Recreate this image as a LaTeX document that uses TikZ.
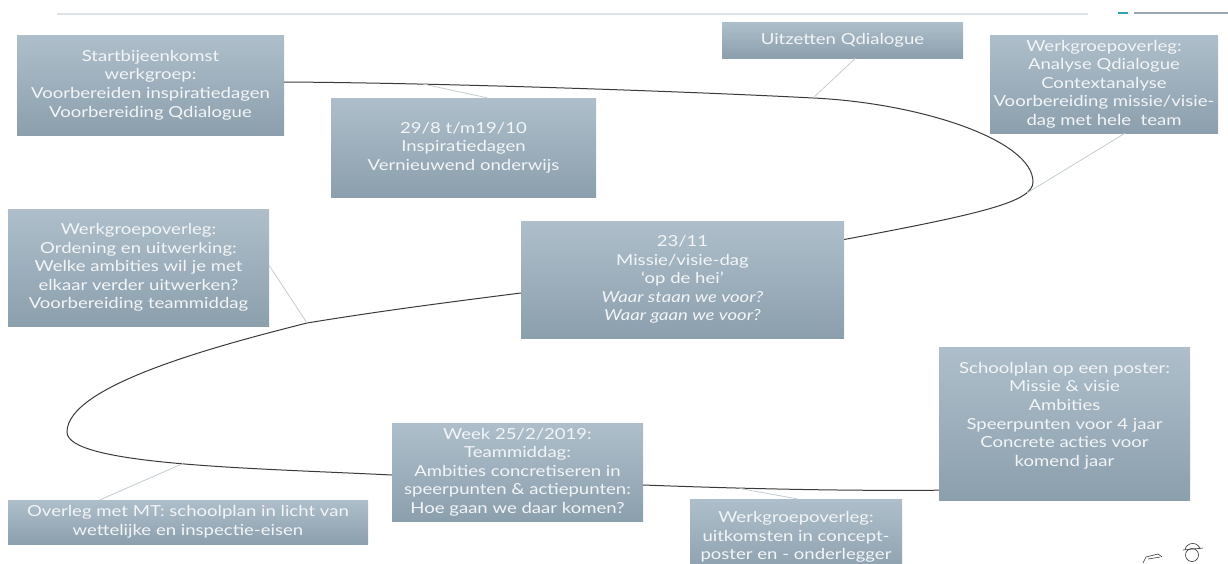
\documentclass[tikz,border=0pt]{standalone}
\usepackage{fontspec}
\setmainfont{Lato}[FakeStretch=1.22]
\definecolor{boxtop}{HTML}{AEBFCB}
\definecolor{boxbot}{HTML}{8C9FAD}
\definecolor{boxtext}{HTML}{F2F5F7}
\definecolor{curvecol}{HTML}{3A3A3A}
\definecolor{callcol}{HTML}{C3CCD2}
\definecolor{headgrey}{HTML}{DCE3E8}
\definecolor{headteal}{HTML}{2AA5B5}
\definecolor{headdark}{HTML}{9AA5AD}
\tikzset{
  box/.style={rectangle, top color=boxtop, bottom color=boxbot, draw=none,
    text=boxtext, align=center, inner sep=2pt,
    font=\fontsize{15.2}{18.6}\selectfont},
  curve/.style={draw=curvecol, line width=1pt},
  callout/.style={draw=callcol, line width=0.8pt},
}
\begin{document}
\begin{tikzpicture}[x=1pt,y=-1pt]
\useasboundingbox (0,0) rectangle (1228,563);
% header
\draw[headgrey, line width=1.6pt] (57,14) -- (1088,14);
\draw[headteal, line width=2pt] (1118,13) -- (1128,13);
\draw[headdark, line width=1.4pt] (1134,13) -- (1228,13);

% boxes
\node[box, minimum width=267pt, minimum height=100pt] (start) at (150.5,85)
  {Startbijeenkomst\\ werkgroep:\\ Voorbereiden inspiratiedagen\\ Voorbereiding Qdialogue};
\node[box, minimum width=265pt, minimum height=99pt] (insp) at (463.5,147.5)
  {29/8 t/m19/10\\ Inspiratiedagen\\ Vernieuwend onderwijs};
\node[box, minimum width=241pt, minimum height=36pt] (uitz) at (842.5,40)
  {Uitzetten Qdialogue};
\node[box, minimum width=228pt, minimum height=98pt] (anal) at (1104,84)
  {Werkgroepoverleg:\\ Analyse Qdialogue\\ Contextanalyse\\ Voorbereiding missie/visie-\\ dag met hele\ \ team};
\node[box, minimum width=261pt, minimum height=117pt] (orde) at (138.5,267.5)
  {Werkgroepoverleg:\\ Ordening en uitwerking:\\ Welke ambities wil je met\\ elkaar verder uitwerken?\\ Voorbereiding teammiddag};
\node[box, minimum width=323pt, minimum height=117pt] (miss) at (682.5,279.5)
  {23/11\\ Missie/visie-dag\\ ‘op de hei’\\ \textit{Waar staan we voor?}\\ \textit{Waar gaan we voor?}};
\node[box, minimum width=251pt, minimum height=153pt] (school) at (1064.5,423.5)
  {Schoolplan op een poster:\\ Missie \& visie\\ Ambities\\ Speerpunten voor 4 jaar\\ Concrete acties voor\\ komend jaar\\ \mbox{}};
\node[box, minimum width=251pt, minimum height=98pt] (week) at (517.5,472)
  {Week 25/2/2019:\\ Teammiddag:\\ Ambities concretiseren in\\ speerpunten \& actiepunten:\\ Hoe gaan we daar komen?};
\node[box, minimum width=360pt, minimum height=44pt] (mt) at (188,522)
  {Overleg met MT: schoolplan in licht van\\ wettelijke en inspectie-eisen};
\node[box, minimum width=212pt, minimum height=76pt] (uitk) at (796,537)
  {Werkgroepoverleg:\\ uitkomsten in concept-\\ poster en - onderlegger};

% curve points where callouts touch
\coordinate (cInsp) at (423,84);
\coordinate (cUitz) at (813,98);
\coordinate (cRight) at (1033,182);
\coordinate (cAnal) at (1027,193);
\coordinate (cOrde) at (307,323);
\coordinate (cLeft) at (67,432);
\coordinate (cMT) at (183,463.5);
\coordinate (cUitk) at (740,488.5);

% main curve
\draw[curve] ([yshift=3pt]start.east) .. controls (450,83) and (700,92) .. (cUitz)
  .. controls (920,103) and (1033,140) .. (cRight)
  .. controls (1033,202) and (980,214) .. ([yshift=40pt]miss.east);
\draw[curve] ([yshift=-13.5pt]miss.west) .. controls (450,302) and (380,311) .. (cOrde)
  .. controls (220,345) and (67,385) .. (cLeft)
  .. controls (67,465) and (250,468) .. ([yshift=-3pt]week.west);
\draw[curve] ([yshift=-13pt]week.east) .. controls (750,489) and (850,491) .. ([yshift=10pt]school.south west);

% callouts
\draw[callout] ([xshift=23.5pt]insp.north) -- (cInsp);
\draw[callout] ([xshift=13pt]uitz.south) -- (cUitz);
\draw[callout] ([xshift=21pt]anal.south) -- (cAnal);
\draw[callout] ([yshift=2pt]orde.east) -- (cOrde);
\draw[callout] ([xshift=-88pt]mt.north) -- (cMT);
\draw[callout] ([xshift=1pt]uitk.north) -- (cUitk);

% small icons bottom right
\draw[black!80, line width=0.6pt] (1143,563) -- (1146,557) -- (1158,554) -- (1162,557);
\draw[black!80, line width=0.6pt] (1148,559) -- (1160,557);
\draw[black!80, line width=0.6pt] (1192,555) circle (6.5);
\draw[black!80, line width=0.6pt] (1185,550) .. controls (1186,542) and (1198,541) .. (1200,549);
\draw[black!80, line width=0.6pt] (1183,550) -- (1203,548);
\end{tikzpicture}
\end{document}
